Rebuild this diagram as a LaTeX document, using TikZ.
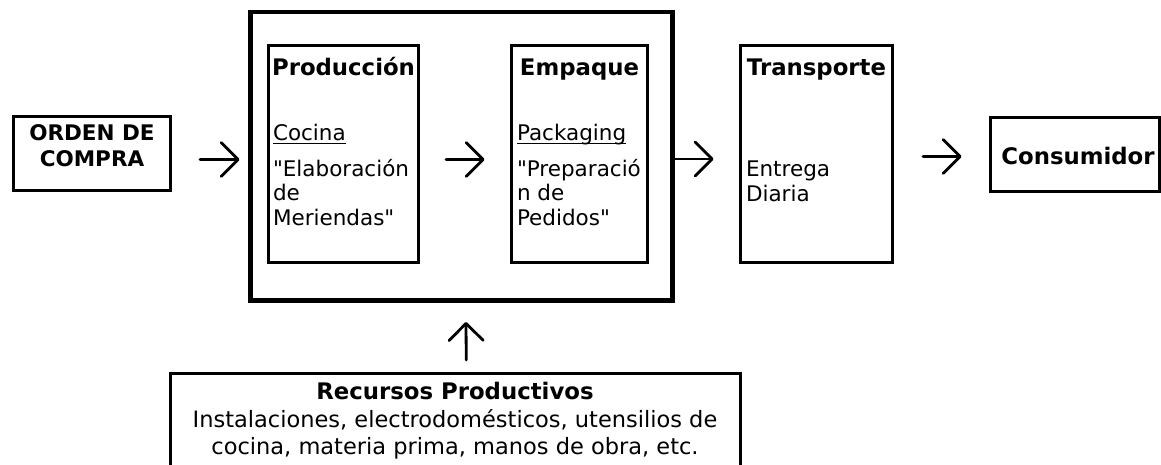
\documentclass[tikz,border=0pt]{standalone}
\usepackage{fontspec}
\setmainfont{DejaVu Sans}
\usetikzlibrary{arrows.meta}
\begin{document}
\begin{tikzpicture}[x=1pt,y=-1pt,
  box/.style={draw, line width=3pt, outer sep=0pt, inner sep=0pt, anchor=north west},
  bigbox/.style={box, line width=4.5pt},
  txt/.style={inner sep=0pt, outer sep=0pt, font=\fontsize{21.5}{25.5}\selectfont},
  btxt/.style={txt, font=\fontsize{22.5}{27}\selectfont},
  ttl/.style={txt, font=\fontsize{22.8}{27}\selectfont\bfseries},
  sttl/.style={txt, font=\fontsize{21.5}{26}\selectfont\bfseries},
  arr/.style={line width=2.8pt, line cap=round, -{Straight Barb[length=17pt,width=34pt,line cap=round,line join=round]}},
  uline/.style={line width=1.3pt}
]
\useasboundingbox (0,0) rectangle (1161,464);
\clip (0,0) rectangle (1161,464);
% boxes
\node[box, minimum width=156.5pt, minimum height=73.5pt] (orden) at (13.5,116.5) {};
\node[bigbox, minimum width=422pt, minimum height=288.5pt] (big) at (250.5,12) {};
\node[box, minimum width=149.5pt, minimum height=217pt] (prod) at (268.5,45) {};
\node[box, minimum width=136pt, minimum height=217pt] (emp) at (511,45) {};
\node[box, minimum width=152.5pt, minimum height=217.5pt] (trans) at (740,45) {};
\node[box, minimum width=169pt, minimum height=73.5pt] (cons) at (990,117.5) {};
\node[box, minimum width=569.5pt, minimum height=130pt] (rec) at (170.5,373.5) {};
% texts
\node[sttl, anchor=base] (o1) at (92,140) {ORDEN DE};
\node[sttl, anchor=base] (o2) at (92,166.5) {COMPRA};
\node[ttl, anchor=base] (tprod) at (343.5,75) {Producción};
\node[ttl, anchor=base] (temp) at (579.5,75) {Empaque};
\node[ttl, anchor=base] (ttrans) at (816.5,75) {Transporte};
\node[ttl, anchor=base] (tcons) at (1078,164) {Consumidor};
\node[txt, anchor=base west] (cocina) at (273,140) {Cocina};
\node[txt, anchor=base west] (p1) at (273,176) {\textquotedbl Elaboración};
\node[txt, anchor=base west] (p2) at (273,200.5) {de};
\node[txt, anchor=base west] (p3) at (273,225) {Meriendas\textquotedbl};
\node[txt, anchor=base west] (pack) at (517,140) {Packaging};
\node[txt, anchor=base west] (e1) at (517,176) {\textquotedbl Preparació};
\node[txt, anchor=base west] (e2) at (517,200.5) {n de};
\node[txt, anchor=base west] (e3) at (517,225) {Pedidos\textquotedbl};
\node[txt, anchor=base west] (t1) at (746,176) {Entrega};
\node[txt, anchor=base west] (t2) at (746,201) {Diaria};
\node[ttl, anchor=base] (r0) at (455,399) {Recursos Productivos};
\node[btxt, anchor=base] (r1) at (455,427) {Instalaciones, electrodomésticos, utensilios de};
\node[btxt, anchor=base] (r2) at (455,454) {cocina, materia prima, manos de obra, etc.};
% underlines
\draw[uline] ([yshift=-3.5pt]cocina.base west) -- ([yshift=-3.5pt]cocina.base east);
\draw[uline] ([yshift=-3.5pt]pack.base west) -- ([yshift=-3.5pt]pack.base east);
% arrows
\draw[arr] ([xshift=30pt,yshift=-6.25pt]orden.east) -- ([xshift=-11pt,yshift=-3.25pt]big.west);
\draw[arr] ([xshift=28pt,yshift=-6pt]prod.east) -- ([xshift=-26.5pt,yshift=-6pt]emp.west);
\draw[arr] ([xshift=0pt,yshift=-2.75pt]big.east) -- ([xshift=-26.5pt,yshift=-5.25pt]trans.west);
\draw[arr] ([xshift=30.5pt,yshift=-2.75pt]trans.east) -- ([xshift=-28.5pt,yshift=-2.25pt]cons.west);
\draw[arr] ([xshift=11pt,yshift=13.5pt]rec.north) -- ([xshift=4.5pt,yshift=-21.5pt]big.south);
\end{tikzpicture}
\end{document}
